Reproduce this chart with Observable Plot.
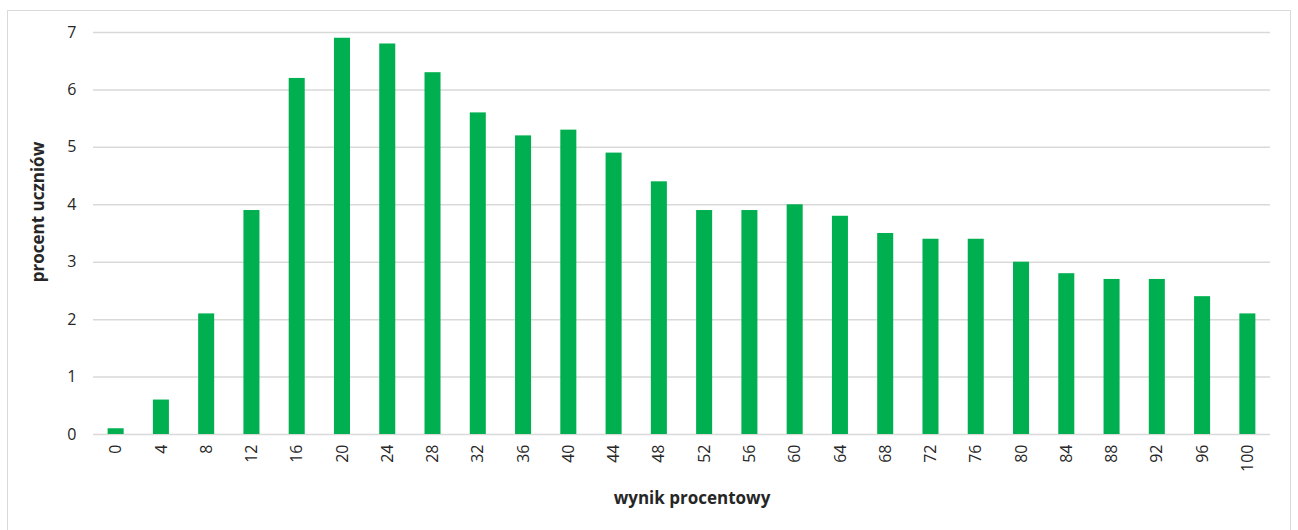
<!DOCTYPE html>
<html>
<head>
<meta charset="utf-8">
<script src="https://cdn.jsdelivr.net/npm/d3@7"></script>
<script src="https://cdn.jsdelivr.net/npm/@observablehq/plot@0.6"></script>
<style>
  html, body { margin: 0; padding: 0; background: #fff; }
  #wrap { position: relative; width: 1298px; height: 530px; overflow: hidden; }
  #frame { position: absolute; left: 7px; top: 10px; width: 1284px; height: 540px; border: 1px solid #d9d9d9; box-sizing: border-box; }
  #chart { position: absolute; left: 0; top: 0; }
</style>
</head>
<body>
<div id="wrap"><div id="frame"></div><div id="chart"></div></div>
<script>
const categories = ["0","4","8","12","16","20","24","28","32","36","40","44","48","52","56","60","64","68","72","76","80","84","88","92","96","100"];
const values = [0.1,0.6,2.1,3.9,6.2,6.9,6.8,6.3,5.6,5.2,5.3,4.9,4.4,3.9,3.9,4.0,3.8,3.5,3.4,3.4,3.0,2.8,2.7,2.7,2.4,2.1];
const yTicks = [0,1,2,3,4,5,6,7];
const xLabel = "wynik procentowy";
const yLabel = "procent uczniów";

const data = categories.map((c, i) => ({cat: c, value: values[i]}));

const W = 1298, H = 530;
const mL = 93, mR = 28, mT = 32, mB = 96;
const FONT = "'Open Sans', 'Liberation Sans', sans-serif";

const plot = Plot.plot({
  width: W, height: H,
  marginLeft: mL, marginRight: mR, marginTop: mT, marginBottom: mB,
  style: {fontFamily: FONT, fontSize: "16px", color: "#262626", background: "transparent"},
  x: {type: "band", domain: categories, paddingInner: 0.646, paddingOuter: 0.323, round: false, label: null},
  y: {domain: [0, 7], label: null},
  marks: [
    Plot.ruleY(yTicks, {stroke: "#d9d9d9", strokeWidth: 1.5}),
    Plot.barY(data, {x: "cat", y: "value", fill: "#00b050"}),
    Plot.axisY(yTicks, {tickSize: 0, tickPadding: 17, fontSize: 16, tickFormat: d3.format("d"), label: null}),
    Plot.axisX({tickSize: 0, tickPadding: 10, tickRotate: -90, fontSize: 16, label: null})
  ]
});
document.getElementById("chart").appendChild(plot);

const svg = d3.select(plot);
svg.append("text")
  .attr("x", 692).attr("y", 504)
  .attr("text-anchor", "middle")
  .style("font-family", FONT)
  .style("font-weight", "bold").style("font-size", "17px").style("fill", "#262626")
  .text(xLabel);
svg.append("text")
  .attr("transform", "translate(44,212) rotate(-90)")
  .attr("text-anchor", "middle")
  .style("font-family", FONT)
  .style("font-weight", "bold").style("font-size", "17px").style("fill", "#262626")
  .text(yLabel);
</script>
</body>
</html>
